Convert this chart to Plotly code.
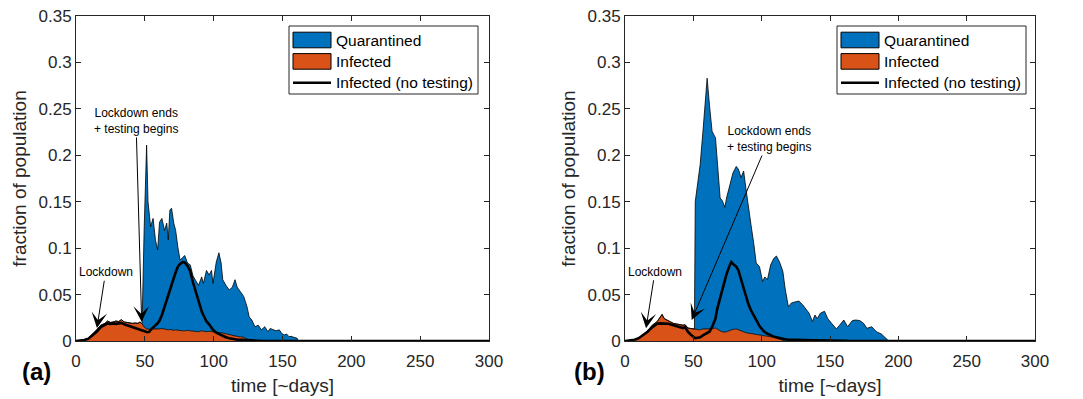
import plotly.graph_objects as go

# ---------------- data ----------------
days_a = [0, 3, 6, 9, 12, 15, 18, 21, 23, 25, 27, 29, 31, 33, 35, 37, 39, 41, 43, 45, 46.5, 48,
          49.5, 51.3, 52.3, 53.3, 54.2, 56, 57.7, 59.3, 60.7, 62.4, 64.3, 65.9, 67, 68.2, 69.4,
          71, 72.4, 74, 75.6, 77.5, 79, 81, 83, 85, 86.6, 89, 91.3, 92.5, 94.8, 96.7, 98.4,
          99.5, 101.9, 103.8, 105.4, 106.6, 108.9, 111.3, 113.6, 115.5, 117.1, 119.5, 121.8,
          124.2, 125.8, 127.7, 130, 132.4, 134.7, 137.1, 139.4, 141, 143, 145.3, 147.7, 149.5,
          151.2, 153, 154.7, 156.5, 158.2, 160.6, 161.5, 300]
infected_a = [0, 0.0005, 0.0012, 0.003, 0.007, 0.012, 0.017, 0.019, 0.0215, 0.020, 0.0205, 0.0215,
              0.021, 0.023, 0.0205, 0.020, 0.0187, 0.019, 0.0194, 0.019, 0.0205, 0.0185,
              0.015, 0.013, 0.013, 0.0125, 0.012, 0.013, 0.013, 0.0125, 0.013, 0.0135, 0.013,
              0.0125, 0.012, 0.0125, 0.012, 0.0115, 0.012, 0.0115, 0.011, 0.011, 0.011, 0.0115,
              0.011, 0.0105, 0.010, 0.010, 0.011, 0.0105, 0.010, 0.0105, 0.010, 0.010, 0.0095,
              0.009, 0.009, 0.0085, 0.008, 0.007, 0.006, 0.0055, 0.005, 0.0045, 0.004, 0.002,
              0.001, 0.0003, 0, 0, 0, 0, 0, 0, 0, 0, 0, 0, 0, 0, 0, 0, 0, 0, 0, 0]
quarantined_a = [0, 0, 0, 0, 0, 0, 0, 0, 0, 0, 0, 0, 0, 0, 0, 0, 0, 0, 0, 0, 0, 0,
                 0.105, 0.198, 0.137, 0.1215, 0.111, 0.119, 0.096, 0.0855, 0.115, 0.1185, 0.106,
                 0.1145, 0.097, 0.1285, 0.131, 0.1155, 0.107, 0.0895, 0.076, 0.079, 0.081, 0.0725,
                 0.071, 0.0595, 0.056, 0.050, 0.058, 0.0515, 0.066, 0.0605, 0.066, 0.052, 0.0755,
                 0.086, 0.075, 0.0575, 0.052, 0.048, 0.052, 0.0605, 0.053, 0.0485, 0.044, 0.035,
                 0.025, 0.0223, 0.0154, 0.017, 0.012, 0.0154, 0.010, 0.0135, 0.012, 0.011, 0.012,
                 0.008, 0.0065, 0.0075, 0.0047, 0.005, 0.004, 0.003, 0, 0]
notest_a = [0, 0.0004, 0.001, 0.0025, 0.006, 0.010, 0.015, 0.0175, 0.019, 0.0185, 0.019, 0.0185,
            0.019, 0.0195, 0.018, 0.017, 0.016, 0.015, 0.014, 0.0125, 0.012, 0.011,
            0.010, 0.0097, 0.0095, 0.010, 0.012, 0.015, 0.017, 0.019, 0.022, 0.028, 0.037,
            0.044, 0.049, 0.056, 0.062, 0.069, 0.074, 0.080, 0.083, 0.085, 0.0845, 0.081, 0.075,
            0.063, 0.055, 0.042, 0.032, 0.028, 0.021, 0.018, 0.014, 0.012, 0.009, 0.0075, 0.006,
            0.0055, 0.004, 0.003, 0.002, 0.0018, 0.0015, 0.0012, 0.001, 0.0008, 0.0006, 0.0005,
            0.0004, 0.0003, 0.0002, 0.0002, 0.0001, 0.0001, 0, 0, 0, 0, 0, 0, 0, 0, 0, 0, 0, 0]

days_b = [0, 3, 7, 10, 13, 16.5, 20, 23.6, 25.5, 27.1, 28.8, 31.8, 35.4, 38.9, 42.5, 44, 46, 48,
          50.8, 51.4, 53, 55, 57, 58.5, 60.1, 61.8, 63.7, 65, 66.2, 67.2, 68.4, 69.6, 71.2, 73.1,
          74.3, 76.2, 77.8, 79, 81.4, 83, 84.9, 86.8, 88.4, 90.2, 92.2, 94.2, 96, 98.4, 100.7,
          102.3, 104.2, 106.6, 108.9, 110.8, 113.1, 115.5, 117.1, 119.5, 121.8, 124.2, 127.2,
          130, 132.4, 134.7, 137.1, 139, 140.6, 143, 146, 148.4, 151.2, 154.7, 157, 160.1,
          162.9, 166.4, 168.8, 171.8, 174.6, 177, 180.5, 184, 187.6, 191, 193, 300]
infected_b = [0, 0.0003, 0.0014, 0.003, 0.006, 0.011, 0.017, 0.021, 0.026, 0.0286, 0.024, 0.022,
              0.019, 0.018, 0.017, 0.0175, 0.014, 0.0135, 0.013, 0.013, 0.012, 0.012, 0.013,
              0.013, 0.0135, 0.013, 0.014, 0.0135, 0.014, 0.013, 0.012, 0.011, 0.010, 0.0095,
              0.010, 0.011, 0.012, 0.0125, 0.013, 0.012, 0.011, 0.010, 0.009, 0.0085, 0.008,
              0.0075, 0.007, 0.0065, 0.0065, 0.006, 0.0055, 0.005, 0.004, 0.003, 0.002, 0.001,
              0, 0, 0, 0, 0, 0, 0, 0, 0, 0, 0, 0, 0, 0, 0, 0, 0, 0, 0, 0, 0, 0, 0, 0, 0, 0, 0,
              0, 0, 0]
quarantined_b = [0, 0, 0, 0, 0, 0, 0, 0, 0, 0, 0, 0, 0, 0, 0, 0, 0, 0,
                 0, 0.137, 0.158, 0.178, 0.212, 0.242, 0.2695, 0.241, 0.212, 0.2085, 0.205, 0.187,
                 0.160, 0.143, 0.141, 0.1345, 0.144, 0.154, 0.163, 0.1685, 0.175, 0.173, 0.165,
                 0.173, 0.156, 0.1345, 0.117, 0.0975, 0.077, 0.0735, 0.0575, 0.063, 0.0605, 0.077,
                 0.085, 0.0885, 0.083, 0.074, 0.057, 0.037, 0.041, 0.042, 0.043, 0.039, 0.035,
                 0.030, 0.021, 0.028, 0.024, 0.030, 0.032, 0.024, 0.019, 0.013, 0.017, 0.0226,
                 0.0154, 0.022, 0.0226, 0.022, 0.019, 0.0136, 0.0154, 0.010, 0.0075, 0.003, 0, 0]
notest_b = [0, 0.0003, 0.0014, 0.003, 0.006, 0.010, 0.015, 0.0186, 0.019, 0.019, 0.019, 0.0185,
            0.017, 0.0155, 0.014, 0.015, 0.010, 0.007, 0.004, 0.003, 0.0035, 0.004, 0.006, 0.007,
            0.008, 0.010, 0.015, 0.019, 0.024, 0.033, 0.040, 0.047, 0.056, 0.067, 0.072, 0.080,
            0.085, 0.083, 0.080, 0.076, 0.066, 0.056, 0.047, 0.040, 0.033, 0.027, 0.022, 0.016,
            0.012, 0.0095, 0.008, 0.006, 0.0047, 0.004, 0.003, 0.002, 0.0018, 0.0015, 0.0013,
            0.0012, 0.0011, 0.001, 0.001, 0.0009, 0.0008, 0.0008, 0.0007, 0.0007, 0.0006,
            0.0005, 0.0005, 0.0004, 0.0003, 0.0003, 0.0002, 0.0002, 0.0001, 0.0001, 0, 0, 0, 0,
            0, 0, 0, 0]

x_ticks = [0, 50, 100, 150, 200, 250, 300]
y_ticks = [0, 0.05, 0.1, 0.15, 0.2, 0.25, 0.3, 0.35]
y_ticklabels = ["0", "0.05", "0.1", "0.15", "0.2", "0.25", "0.3", "0.35"]

series_names = ["Quarantined", "Infected", "Infected (no testing)"]
panel_labels = ["(a)", "(b)"]
annot_lockdown = "Lockdown"
annot_ends = "Lockdown ends<br>+ testing begins"

# ---------------- styling ----------------
W, H = 1083, 399
FONT = "Liberation Sans, Arial, Helvetica, sans-serif"
BLUE = "#0072BD"
ORANGE = "#D95319"
AX = "#262626"


def fx(p):
    return p / W


def fy(p):
    return 1 - p / H


fig = go.Figure()

panels = [
    dict(days=days_a, inf=infected_a, q=quarantined_a, nt=notest_a, xa="x", ya="y", sg="a"),
    dict(days=days_b, inf=infected_b, q=quarantined_b, nt=notest_b, xa="x2", ya="y2", sg="b"),
]

for p in panels:
    fig.add_trace(go.Scatter(
        x=p["days"], y=p["inf"], name=series_names[1], stackgroup=p["sg"], mode="lines",
        line=dict(color="black", width=0.8), fillcolor=ORANGE, showlegend=False,
        xaxis=p["xa"], yaxis=p["ya"]))
    fig.add_trace(go.Scatter(
        x=p["days"], y=p["q"], name=series_names[0], stackgroup=p["sg"], mode="lines",
        line=dict(color="black", width=0.8), fillcolor=BLUE, showlegend=False,
        xaxis=p["xa"], yaxis=p["ya"]))
    fig.add_trace(go.Scatter(
        x=p["days"], y=p["nt"], name=series_names[2], mode="lines",
        line=dict(color="black", width=2.6), showlegend=False,
        xaxis=p["xa"], yaxis=p["ya"]))

axis_common = dict(
    showline=True, linecolor=AX, linewidth=1, mirror="ticks", ticks="inside", ticklen=5,
    tickwidth=1, tickcolor=AX, showgrid=False, zeroline=False, automargin=False,
    tickfont=dict(family=FONT, size=17, color=AX),
)
xtitle = dict(text="time [~days]", font=dict(family=FONT, size=19, color=AX), standoff=8)
ytitle = dict(text="fraction of population", font=dict(family=FONT, size=19, color=AX), standoff=6)

ydom = [fy(341), fy(16)]
fig.update_layout(
    xaxis=dict(domain=[fx(76), fx(489)], range=[0, 300], tickvals=x_ticks, anchor="y",
               ticklabelstandoff=5, title=xtitle, **axis_common),
    yaxis=dict(domain=ydom, range=[0, 0.35], tickvals=y_ticks, ticktext=y_ticklabels, anchor="x",
               title=ytitle, **axis_common),
    xaxis2=dict(domain=[fx(625), fx(1035)], range=[0, 300], tickvals=x_ticks, anchor="y2",
                ticklabelstandoff=5, title=xtitle, **axis_common),
    yaxis2=dict(domain=ydom, range=[0, 0.35], tickvals=y_ticks, ticktext=y_ticklabels, anchor="x2",
                title=ytitle, **axis_common),
)

# ---------------- legends (box + swatches + labels, per panel) ----------------
shapes = []
annotations = []
legend_colors = [BLUE, ORANGE, None]
for left in (289, 837):
    right = left + 189
    shapes.append(dict(type="rect", xref="paper", yref="paper",
                       x0=fx(left), x1=fx(right), y0=fy(94), y1=fy(26),
                       line=dict(color=AX, width=1), fillcolor="white", layer="above"))
    for i, (name, col) in enumerate(zip(series_names, legend_colors)):
        yc = 40 + i * 21.4
        if col is not None:
            shapes.append(dict(type="rect", xref="paper", yref="paper",
                               x0=fx(left + 4), x1=fx(left + 42), y0=fy(yc + 7.8), y1=fy(yc - 7.8),
                               line=dict(color="black", width=1), fillcolor=col, layer="above"))
        else:
            shapes.append(dict(type="line", xref="paper", yref="paper",
                               x0=fx(left + 4), x1=fx(left + 42), y0=fy(yc), y1=fy(yc),
                               line=dict(color="black", width=2.6), layer="above"))
        annotations.append(dict(xref="paper", yref="paper", x=fx(left + 45), y=fy(yc),
                                text=name, showarrow=False, xanchor="left", yanchor="middle",
                                font=dict(family=FONT, size=15.5, color="black")))

arrow_common = dict(showarrow=True, arrowhead=3, arrowsize=2.6, arrowwidth=1, arrowcolor="black",
                    font=dict(family=FONT, size=12, color="black"), standoff=0)
annotations += [
    dict(xref="x", yref="y", axref="x", ayref="y", x=15.2, y=0.014, ax=21.5, ay=0.074,
         text=annot_lockdown, **arrow_common),
    dict(xref="x", yref="y", axref="x", ayref="y", x=47.7, y=0.0208, ax=43.6, ay=0.237,
         text=annot_ends, **arrow_common),
    dict(xref="x2", yref="y2", axref="x2", ayref="y2", x=15.4, y=0.0137, ax=21.9, ay=0.0746,
         text=annot_lockdown, **arrow_common),
    dict(xref="x2", yref="y2", axref="x2", ayref="y2", x=48.8, y=0.0226, ax=105.4, ay=0.2175,
         text=annot_ends, **arrow_common),
    dict(xref="paper", yref="paper", x=fx(36.5), y=fy(371), text="<b>" + panel_labels[0] + "</b>",
         showarrow=False, xanchor="center", yanchor="middle",
         font=dict(family=FONT, size=24, color="black")),
    dict(xref="paper", yref="paper", x=fx(589), y=fy(371), text="<b>" + panel_labels[1] + "</b>",
         showarrow=False, xanchor="center", yanchor="middle",
         font=dict(family=FONT, size=24, color="black")),
]
fig.update_layout(
    shapes=shapes, annotations=annotations, showlegend=False,
    width=W, height=H, margin=dict(l=0, r=0, t=0, b=0),
    paper_bgcolor="white", plot_bgcolor="white",
)

fig.write_html("out.html")
